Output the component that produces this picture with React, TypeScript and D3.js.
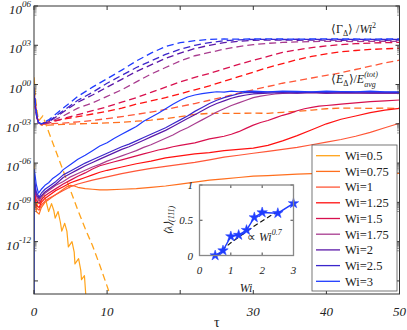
import React from 'react';
import * as d3 from 'd3';

// legend / colours
const wiLabels = ['Wi=0.5', 'Wi=0.75', 'Wi=1', 'Wi=1.25', 'Wi=1.5', 'Wi=1.75', 'Wi=2', 'Wi=2.5', 'Wi=3'];
const wiColors = ['#FFA31A', '#FF6F1E', '#FF5738', '#FF1010', '#D8104E', '#A83C8F', '#5B18A8', '#3B26CC', '#1F3CFF'];

// solid lines: <E_delta>/E_avg, log10 values
const tauE05 = [0, 0.15, 0.35, 0.6, 0.9, 1.3, 1.6, 2.0, 2.4, 2.7, 2.9, 3.3, 3.6, 3.8, 4.2, 4.5, 4.7, 5.2, 5.5, 5.6, 6.1, 6.4, 6.5, 6.9, 7.1, 7.4];
const logE05 = [-6.0, -8.6, -9.6, -8.5, -9.1, -8.3, -8.8, -9.7, -9.1, -9.6, -10.2, -9.7, -10.5, -11.2, -10.6, -11.2, -12.4, -12.0, -12.8, -13.7, -13.3, -14.2, -14.9, -14.6, -16.2, -17.5];

const tauE075 = [0, 0.05, 0.3, 0.7, 1, 1.5, 2, 2.5, 3, 3.5, 4, 4.5, 5, 5.5, 6, 7, 8, 9, 10, 12, 14, 16, 18, 20, 22, 24, 26, 28, 30, 32, 34, 36, 38, 40, 42, 44, 46, 48, 50];
const logE075 = [-7.0, -8.3, -9.7, -9.9, -9.4, -9.0, -8.8, -8.6, -8.4, -8.2, -8.0, -7.8, -7.7, -7.75, -7.85, -7.95, -8.0, -8.05, -8.05, -8.0, -7.95, -7.85, -7.75, -7.6, -7.45, -7.3, -7.2, -7.1, -7.0, -6.95, -6.9, -6.85, -6.8, -6.8, -6.78, -6.8, -6.78, -6.8, -6.78];

const tauE1 = [0, 0.05, 0.3, 0.7, 1, 1.5, 2, 3, 4, 5, 6, 8, 10, 12, 14, 16, 18, 20, 22, 24, 26, 28, 30, 32, 34, 36, 38, 40, 42, 44, 46, 48, 50];
const logE1 = [-7.4, -8.2, -9.4, -9.6, -9.2, -8.9, -8.7, -8.4, -8.1, -7.8, -7.6, -7.3, -7.05, -6.8, -6.6, -6.4, -6.25, -6.1, -5.95, -5.75, -5.55, -5.4, -5.25, -5.1, -4.95, -4.8, -4.6, -4.4, -4.2, -3.95, -3.65, -3.3, -2.96];

const tauE125 = [0, 0.05, 0.3, 0.7, 1, 1.5, 2, 3, 4, 5, 6, 7, 8, 9, 10, 12, 14, 16, 18, 20, 22, 24, 26, 28, 30, 32, 34, 36, 38, 40, 42, 44, 46, 48, 50];
const logE125 = [-7.3, -8.0, -9.2, -9.4, -9.0, -8.7, -8.5, -8.1, -7.8, -7.5, -7.3, -7.1, -6.9, -6.7, -6.55, -6.3, -6.05, -5.85, -5.6, -5.45, -5.3, -5.2, -5.05, -4.95, -4.85, -4.65, -4.3, -3.9, -3.45, -3.0, -2.65, -2.4, -2.15, -1.95, -1.82];

const tauE15 = [0, 0.05, 0.3, 0.7, 1, 1.5, 2, 3, 4, 5, 6, 7, 8, 9, 10, 11, 12, 13, 14, 15, 16, 17, 18, 19, 20, 21, 22, 23, 24, 25, 26, 27, 28, 29, 30, 31, 32, 33, 34, 35, 36, 37, 38, 39, 40, 41, 42, 44, 46, 48, 50];
const logE15 = [-7.2, -7.8, -8.8, -9.1, -8.8, -8.5, -8.3, -7.95, -7.6, -7.3, -7.0, -6.75, -6.45, -6.2, -6.05, -5.9, -5.75, -5.6, -5.45, -5.3, -5.15, -5.0, -4.9, -4.75, -4.65, -4.55, -4.45, -4.3, -4.15, -4.05, -3.95, -3.8, -3.6, -3.35, -3.1, -2.9, -2.75, -2.55, -2.35, -2.2, -2.0, -1.85, -1.75, -1.65, -1.6, -1.55, -1.5, -1.4, -1.3, -1.25, -1.18];

const tauE175 = [0, 0.05, 0.3, 0.7, 1, 1.5, 2, 3, 4, 5, 6, 7, 8, 9, 10, 11, 12, 13, 14, 15, 16, 17, 18, 19, 20, 21, 22, 23, 24, 25, 26, 27, 28, 29, 30, 31, 32, 33, 34, 35, 36, 38, 40, 42, 44, 46, 48, 50];
const logE175 = [-7.1, -7.5, -8.5, -8.9, -8.6, -8.3, -8.1, -7.7, -7.4, -7.05, -6.8, -6.55, -6.3, -6.1, -5.85, -5.65, -5.45, -5.25, -5.05, -4.8, -4.6, -4.35, -4.1, -3.85, -3.55, -3.3, -3.0, -2.7, -2.4, -2.1, -1.85, -1.6, -1.4, -1.2, -1.0, -0.88, -0.8, -0.72, -0.68, -0.65, -0.66, -0.62, -0.68, -0.64, -0.66, -0.63, -0.66, -0.65];

const tauE2 = [0, 0.05, 0.3, 0.7, 1, 1.5, 2, 3, 4, 5, 6, 7, 8, 9, 10, 11, 12, 13, 14, 15, 16, 17, 18, 19, 20, 21, 22, 23, 24, 25, 26, 27, 28, 29, 30, 32, 34, 36, 38, 40, 43, 46, 50];
const logE2 = [-7.0, -7.4, -8.4, -8.7, -8.5, -8.2, -8.0, -7.6, -7.1, -6.8, -6.5, -6.2, -5.95, -5.7, -5.45, -5.2, -4.95, -4.75, -4.5, -4.25, -4.0, -3.75, -3.5, -3.2, -2.9, -2.6, -2.3, -2.0, -1.7, -1.45, -1.25, -1.05, -0.9, -0.8, -0.72, -0.65, -0.62, -0.65, -0.6, -0.65, -0.62, -0.65, -0.65];

const tauE25 = [0, 0.05, 0.3, 0.7, 1, 1.5, 2, 3, 4, 5, 6, 7, 8, 9, 10, 11, 12, 13, 14, 15, 16, 17, 18, 19, 20, 21, 22, 23, 24, 25, 26, 27, 28, 29, 30, 32, 34, 36, 38, 40, 43, 46, 50];
const logE25 = [-6.8, -7.2, -8.2, -8.6, -8.3, -8.0, -7.8, -7.4, -6.9, -6.6, -6.3, -6.0, -5.75, -5.5, -5.25, -5.0, -4.75, -4.55, -4.3, -4.05, -3.8, -3.55, -3.3, -3.0, -2.7, -2.4, -2.05, -1.75, -1.45, -1.2, -1.0, -0.85, -0.7, -0.6, -0.62, -0.58, -0.55, -0.6, -0.57, -0.6, -0.55, -0.58, -0.6];

const tauE3 = [0, 0.05, 0.3, 0.6, 1, 1.5, 2, 2.5, 3, 3.5, 4, 5, 6, 7, 8, 9, 10, 11, 12, 13, 14, 15, 16, 17, 18, 19, 20, 21, 22, 23, 24, 25, 26, 27, 28, 29, 30, 32, 34, 36, 38, 40, 42, 44, 46, 48, 50];
const logE3 = [-20, -6.5, -7.6, -8.3, -8.0, -7.7, -7.5, -7.2, -7.0, -6.8, -6.5, -6.1, -5.7, -5.4, -5.05, -4.7, -4.45, -4.1, -3.8, -3.5, -3.2, -2.8, -2.5, -2.2, -1.85, -1.5, -1.2, -0.95, -0.8, -0.7, -0.62, -0.55, -0.58, -0.5, -0.55, -0.52, -0.5, -0.55, -0.5, -0.52, -0.55, -0.5, -0.53, -0.55, -0.5, -0.55, -0.55];

// dashed lines: <Gamma_delta>/Wi^2, log10 values
const tauG05 = [0, 0.3, 0.6, 0.9, 1.2, 2, 3, 4, 5, 6, 7, 8, 9, 10, 10.6];
const logG05 = [0.55, -1.5, -2.8, -2.6, -2.4, -3.6, -5.1, -6.6, -8.1, -9.6, -11.0, -12.3, -13.8, -15.4, -16.4];

const tauG = [0, 0.3, 0.6, 1, 2, 4, 6, 8, 10, 12, 14, 16, 18, 20, 22, 24, 26, 28, 30, 32, 34, 36, 38, 40, 42, 44, 46, 48, 50];
const logG075 = [-0.3, -2.0, -2.9, -3.1, -3.1, -3.05, -3.0, -2.97, -2.93, -2.88, -2.8, -2.72, -2.6, -2.45, -2.28, -2.2, -2.2, -2.2, -2.18, -2.2, -2.12, -2.05, -1.95, -1.85, -1.8, -1.8, -1.82, -1.8, -1.82];
const logG1 = [-0.6, -2.1, -2.9, -3.05, -3.0, -2.95, -2.85, -2.75, -2.6, -2.45, -2.28, -2.1, -1.9, -1.68, -1.45, -1.2, -0.95, -0.65, -0.4, -0.15, 0.1, 0.3, 0.5, 0.7, 0.9, 1.15, 1.4, 1.65, 1.87];
const logG125 = [-0.8, -2.2, -2.9, -3.0, -2.85, -2.65, -2.45, -2.25, -2.05, -1.8, -1.5, -1.25, -1.0, -0.7, -0.4, -0.1, 0.25, 0.6, 0.95, 1.3, 1.6, 1.9, 2.15, 2.35, 2.5, 2.6, 2.68, 2.73, 2.77];
const logG15 = [-0.9, -2.3, -2.9, -3.0, -2.95, -2.6, -2.3, -2.0, -1.7, -1.35, -1.0, -0.6, -0.2, 0.2, 0.55, 0.85, 1.2, 1.55, 1.85, 2.15, 2.45, 2.65, 2.82, 2.95, 3.05, 3.12, 3.17, 3.2, 3.22];
const logG175 = [-0.8, -2.3, -2.9, -3.0, -2.9, -2.4, -1.8, -1.4, -0.9, -0.4, 0.2, 0.8, 1.3, 1.8, 2.2, 2.45, 2.7, 2.9, 3.05, 3.15, 3.22, 3.26, 3.28, 3.3, 3.3, 3.28, 3.3, 3.3, 3.3];
const logG2 = [-0.6, -2.3, -2.9, -3.0, -2.85, -2.1, -1.35, -0.8, -0.2, 0.4, 1.0, 1.5, 2.0, 2.4, 2.75, 3.0, 3.2, 3.3, 3.38, 3.4, 3.4, 3.38, 3.4, 3.4, 3.38, 3.4, 3.4, 3.38, 3.4];
const logG25 = [-0.4, -2.2, -2.9, -3.0, -2.8, -2.0, -1.2, -0.6, 0.1, 0.7, 1.3, 1.8, 2.3, 2.7, 3.0, 3.2, 3.35, 3.42, 3.45, 3.45, 3.44, 3.46, 3.45, 3.45, 3.44, 3.45, 3.45, 3.44, 3.45];
const logG3 = [-0.2, -2.0, -2.9, -3.0, -2.7, -1.8, -0.9, -0.2, 0.45, 1.1, 1.8, 2.4, 2.9, 3.2, 3.35, 3.45, 3.48, 3.47, 3.48, 3.49, 3.48, 3.47, 3.48, 3.49, 3.48, 3.48, 3.47, 3.48, 3.48];

// inset: <lambda>_(111) vs Wi
const insetWi = [0.5, 0.75, 1, 1.25, 1.5, 1.75, 2, 2.5, 3];
const insetLambda = [0, 0.07, 0.27, 0.29, 0.36, 0.54, 0.61, 0.6, 0.74];
const fitWi = [0.55, 0.75, 1, 1.25, 1.5, 1.75, 2, 2.25, 2.5];
const fitLambda = [-0.02, 0.09, 0.18, 0.26, 0.34, 0.42, 0.49, 0.56, 0.62];

// axes ticks
const xTicks = [0, 10, 20, 30, 40, 50];
const xTickLabels = ['0', '10', '', '30', '40', '50'];
const yTickExps = [6, 3, 0, -3, -6, -9, -12, -15];
const yLabelExps = [6, 3, 0, -3, -6, -9, -12];

const solidTau = [tauE05, tauE075, tauE1, tauE125, tauE15, tauE175, tauE2, tauE25, tauE3];
const solidLog = [logE05, logE075, logE1, logE125, logE15, logE175, logE2, logE25, logE3];
const dashTau = [tauG05, tauG, tauG, tauG, tauG, tauG, tauG, tauG, tauG];
const dashLog = [logG05, logG075, logG1, logG125, logG15, logG175, logG2, logG25, logG3];

const FONT = 'Liberation Serif';

const W = 407;
const H = 330;
const plot = { left: 34, right: 399.5, top: 6, bottom: 294 };
const inset = { left: 199.5, right: 293.5, top: 185, bottom: 255.5 };

const x = d3.scaleLinear().domain([0, 50]).range([plot.left, plot.right]);
const y = d3.scaleLog().domain([1e-16, 1e6]).range([plot.bottom, plot.top]);
const ix = d3.scaleLinear().domain([0, 3]).range([inset.left, inset.right]);
const iy = d3.scaleLinear().domain([0, 1]).range([inset.bottom, inset.top]);

const expLabel = (e: number) => (e < 0 ? '-' : '') + String(Math.abs(e)).padStart(2, '0');

const lineOf = (ts: number[], ls: number[]) => {
	const pts: [number, number][] = ts.map((t, i) => [t, Math.pow(10, ls[i])]);
	return d3
		.line<[number, number]>()
		.x((d) => x(d[0]))
		.y((d) => y(d[1]))(pts) as string;
};

const MainAxes = () => {
	const minor: number[] = [];
	yLabelExps.forEach((e) => {
		for (let m = 2; m <= 9; m++) minor.push(m * Math.pow(10, e - 1));
	});
	return (
		<g>
			<rect x={plot.left} y={plot.top} width={plot.right - plot.left} height={plot.bottom - plot.top} fill="none" stroke="#333" strokeWidth={1} />
			{xTicks.map((t, i) => (
				<g key={'xt' + t}>
					<line x1={x(t)} x2={x(t)} y1={plot.bottom} y2={plot.bottom - 4} stroke="#333" />
					<line x1={x(t)} x2={x(t)} y1={plot.top} y2={plot.top + 4} stroke="#333" />
					<text x={x(t)} y={316} textAnchor="middle" fontSize={13} fontStyle="italic" fill="#222">
						{xTickLabels[i]}
					</text>
				</g>
			))}
			{yTickExps.map((e) => (
				<g key={'yt' + e}>
					<line x1={plot.left} x2={plot.left + 4} y1={y(Math.pow(10, e))} y2={y(Math.pow(10, e))} stroke="#333" />
					<line x1={plot.right} x2={plot.right - 4} y1={y(Math.pow(10, e))} y2={y(Math.pow(10, e))} stroke="#333" />
				</g>
			))}
			{minor.map((v, i) => (
				<g key={'ym' + i}>
					<line x1={plot.left} x2={plot.left + 2.5} y1={y(v)} y2={y(v)} stroke="#555" strokeWidth={0.6} />
					<line x1={plot.right} x2={plot.right - 2.5} y1={y(v)} y2={y(v)} stroke="#555" strokeWidth={0.6} />
				</g>
			))}
			{yLabelExps.map((e) => (
				<text key={'yl' + e} x={31} y={y(Math.pow(10, e)) + 8} textAnchor="end" fontSize={13} fontStyle="italic" fill="#222">
					10
					<tspan fontSize={9} dy={-7}>
						{expLabel(e)}
					</tspan>
				</text>
			))}
			<text x={(plot.left + plot.right) / 2} y={327} textAnchor="middle" fontSize={14} fill="#222">
				τ
			</text>
		</g>
	);
};

const Curves = () => (
	<g clipPath="url(#plotClip)">
		{wiColors.map((c, i) => (
			<g key={'c' + i}>
				<path d={lineOf(solidTau[i], solidLog[i])} fill="none" stroke={c} strokeWidth={1.2} strokeLinejoin="round" />
				<path d={lineOf(dashTau[i], dashLog[i])} fill="none" stroke={c} strokeWidth={1.3} strokeDasharray="7,4" />
			</g>
		))}
	</g>
);

const Annotations = () => (
	<g fill="#222">
		<text x={331} y={33} fontSize={12}>
			⟨Γ
			<tspan fontSize={8} dy={3}>
				Δ
			</tspan>
			<tspan dy={-3}>⟩ /</tspan>
			<tspan fontStyle="italic">Wi</tspan>
			<tspan fontSize={8} dy={-5}>
				2
			</tspan>
		</text>
		<text x={331} y={83} fontSize={12}>
			⟨<tspan fontStyle="italic">E</tspan>
			<tspan fontSize={8} dy={3}>
				Δ
			</tspan>
			<tspan dy={-3}>⟩/</tspan>
			<tspan fontStyle="italic">E</tspan>
			<tspan fontSize={8} fontStyle="italic" dy={-6}>
				(tot)
			</tspan>
			<tspan fontSize={8} fontStyle="italic" dx={-13.8} dy={10}>
				avg
			</tspan>
		</text>
	</g>
);

const Legend = () => (
	<g>
		<rect x={312} y={145} width={85} height={146} fill="#fff" stroke="#555" strokeWidth={0.8} />
		{wiLabels.map((l, i) => {
			const yy = 155.7 + i * 15.7;
			return (
				<g key={l}>
					<line x1={316} x2={340} y1={yy} y2={yy} stroke={wiColors[i]} strokeWidth={1.3} />
					<text x={345} y={yy + 4.3} fontSize={12.5} fill="#222">
						{l}
					</text>
				</g>
			);
		})}
	</g>
);

const Inset = () => {
	const pts: [number, number][] = insetWi.map((w, i) => [w, insetLambda[i]]);
	const fit: [number, number][] = fitWi.map((w, i) => [w, fitLambda[i]]);
	const ln = d3
		.line<[number, number]>()
		.x((d) => ix(d[0]))
		.y((d) => iy(d[1]));
	const star = d3.symbol(d3.symbolStar, 34)() as string;
	return (
		<g fill="#222">
			<rect x={inset.left} y={inset.top} width={inset.right - inset.left} height={inset.bottom - inset.top} fill="#fff" stroke="none" />
			{[0, 1, 2, 3].map((t) => (
				<g key={'ix' + t}>
					<line x1={ix(t)} x2={ix(t)} y1={inset.bottom} y2={inset.bottom - 3} stroke="#444" />
					<line x1={ix(t)} x2={ix(t)} y1={inset.top} y2={inset.top + 3} stroke="#444" />
					<text x={ix(t)} y={274} textAnchor="middle" fontSize={11} fontStyle="italic">
						{t}
					</text>
				</g>
			))}
			{[0, 0.5, 1].map((t) => (
				<g key={'iy' + t}>
					<line x1={inset.left} x2={inset.left + 3} y1={iy(t)} y2={iy(t)} stroke="#444" />
					<line x1={inset.right} x2={inset.right - 3} y1={iy(t)} y2={iy(t)} stroke="#444" />
					<text x={193} y={iy(t) + 4} textAnchor="end" fontSize={11} fontStyle="italic">
						{t}
					</text>
				</g>
			))}
			<clipPath id="insetClip">
				<rect x={inset.left} y={inset.top} width={inset.right - inset.left} height={inset.bottom - inset.top} />
			</clipPath>
			<path d={ln(fit) as string} fill="none" stroke="#111" strokeWidth={1.2} strokeDasharray="5,3" clipPath="url(#insetClip)" />
			<path d={ln(pts) as string} fill="none" stroke="#1F3CFF" strokeWidth={1.4} />
			{pts.map((p, i) => (
				<path key={'s' + i} d={star} transform={`translate(${ix(p[0])},${iy(p[1])})`} fill="#1F3CFF" stroke="#1F3CFF" strokeWidth={0.5} />
			))}
			<rect x={inset.left} y={inset.top} width={inset.right - inset.left} height={inset.bottom - inset.top} fill="none" stroke="#888" strokeWidth={1.3} />
			<text x={246} y={292} textAnchor="middle" fontSize={12} fontStyle="italic">
				Wi
			</text>
			<text transform={`translate(172,${(inset.top + inset.bottom) / 2}) rotate(-90)`} textAnchor="middle" fontSize={11} fontStyle="italic">
				⟨λ⟩
				<tspan fontSize={8} dy={2}>
					(111)
				</tspan>
			</text>
			<text x={247} y={241} fontSize={12}>
				∝ <tspan fontStyle="italic">Wi</tspan>
				<tspan fontSize={8} fontStyle="italic" dy={-6}>
					0.7
				</tspan>
			</text>
		</g>
	);
};

const App = () => (
	<svg width={W} height={H} fontFamily={FONT} style={{ position: 'absolute', left: 0, top: 0, background: '#fff' }}>
		<defs>
			<clipPath id="plotClip">
				<rect x={plot.left} y={plot.top} width={plot.right - plot.left} height={plot.bottom - plot.top} />
			</clipPath>
		</defs>
		<rect x={0} y={0} width={W} height={H} fill="#fff" />
		<Curves />
		<MainAxes />
		<Annotations />
		<Inset />
		<Legend />
	</svg>
);

export default App;
